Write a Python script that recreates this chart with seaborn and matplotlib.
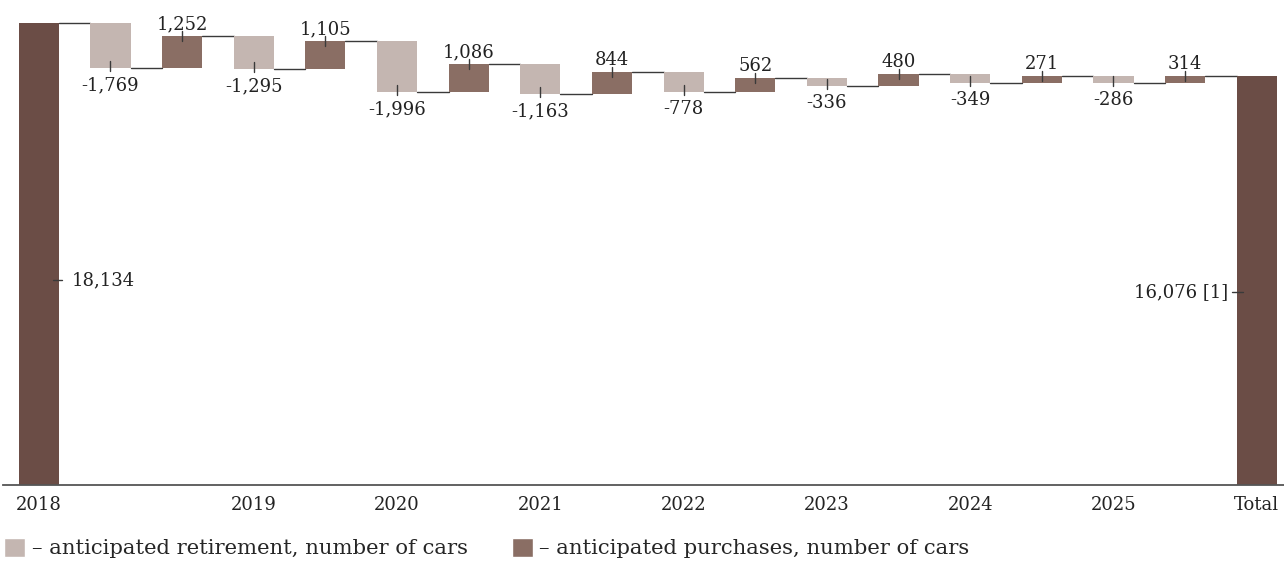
"""
Waterfall: fleet size 2018 -> Total, anticipated retirement vs. purchases.
"""
import matplotlib
matplotlib.use("Agg")
import matplotlib.pyplot as plt
from matplotlib.patches import Patch
import seaborn as sns

# --- data -------------------------------------------------------------
start_value = 18134
retirement = [-1769, -1295, -1996, -1163, -778, -336, -349, -286]
purchases = [1252, 1105, 1086, 844, 562, 480, 271, 314]
tick_labels = ["2018", "", "", "2019", "", "2020", "", "2021", "",
               "2022", "", "2023", "", "2024", "", "2025", "", "Total"]
total_note = " [1]"
legend_labels = ["– anticipated retirement, number of cars",
                 "– anticipated purchases, number of cars"]

c_total = "#6b4d46"
c_buy = "#8a6e64"
c_ret = "#c4b6b1"
c_line = "#3a3a3a"
c_text = "#222222"

sns.set_theme(style="white")
plt.rcParams["font.family"] = ["DejaVu Serif"]
FS = 13
FS_LEG = 15.2

# build waterfall sequence
kinds, deltas = ["total"], [start_value]
for r, p in zip(retirement, purchases):
    kinds += ["ret", "buy"]
    deltas += [r, p]
level = start_value
bottoms, heights = [0], [start_value]
for d in deltas[1:]:
    bottoms.append(level + min(d, 0))
    heights.append(abs(d))
    level += d
kinds.append("total")
deltas.append(level)
bottoms.append(0)
heights.append(level)

colors = {"total": c_total, "ret": c_ret, "buy": c_buy}
W = 0.56
YMAX = 19040

fig = plt.figure(figsize=(12.84, 5.61), dpi=100)
ax = fig.add_axes([3 / 1284, 76 / 561, 1281 / 1284, 485 / 561])
px = YMAX / 485  # data units per pixel (vertical)
pxx = 1 / 71.65  # data units per pixel (horizontal)

xs = list(range(len(kinds)))
ax.bar(xs, heights, bottom=bottoms, width=W,
       color=[colors[k] for k in kinds], edgecolor="none", zorder=2)

# connectors
running = [b + h if (k == "total" or d > 0) else b
           for k, d, b, h in zip(kinds, deltas, bottoms, heights)]
for i in range(len(xs) - 1):
    ax.plot([i + W / 2, i + 1 - W / 2], [running[i]] * 2,
            color=c_line, lw=1, zorder=1)

# value labels
for i, (k, d, b, h) in enumerate(zip(kinds, deltas, bottoms, heights)):
    if k == "ret":
        ax.plot([i, i], [b + 7 * px, b - 3 * px], color=c_line, lw=1, zorder=3)
        ax.text(i, b - 8 * px, f"{d:,}", ha="center",
                va="top", fontsize=FS, color=c_text)
    elif k == "buy":
        ax.plot([i, i], [b + h + 5 * px, b + h - 5 * px], color=c_line,
                lw=1, zorder=3)
        ax.text(i, b + h + 7 * px, f"{d:,}", ha="center", va="baseline",
                fontsize=FS, color=c_text)

# total labels
y0 = 0.444 * start_value
ax.plot([W / 2 - 6 * pxx, W / 2 + 3 * pxx], [y0, y0], color=c_line,
        lw=1, zorder=3)
ax.text(W / 2 + 13 * pxx, y0, f"{start_value:,}", ha="left", va="center",
        fontsize=FS, color=c_text)
n = len(xs) - 1
y1 = 0.471 * level
ax.plot([n - W / 2 - 5 * pxx, n - W / 2 + 6 * pxx], [y1, y1], color=c_line,
        lw=1, zorder=3)
ax.text(n - W / 2 - 9 * pxx, y1, f"{level:,}{total_note}", ha="right",
        va="center", fontsize=FS, color=c_text)

ax.set_xlim(-0.5, n + 0.38)
ax.set_ylim(0, YMAX)
ax.set_xticks(xs)
ax.set_xticklabels(tick_labels, fontsize=FS, color=c_text)
ax.tick_params(axis="x", length=0, pad=8)
ax.set_yticks([])
sns.despine(ax=ax, left=True)
ax.spines["bottom"].set_color("#555555")
ax.spines["bottom"].set_linewidth(1.3)

handles = [Patch(facecolor=c_ret, label=legend_labels[0]),
           Patch(facecolor=c_buy, label=legend_labels[1])]
fig.legend(handles=handles, loc="center left", bbox_to_anchor=(0.0, 13 / 561),
           ncol=2, frameon=False, fontsize=FS_LEG, handlelength=1.0,
           handleheight=1.0, handletextpad=0.3, columnspacing=2.1,
           borderaxespad=0, borderpad=0.2)

fig.savefig("out.png", dpi=100)
